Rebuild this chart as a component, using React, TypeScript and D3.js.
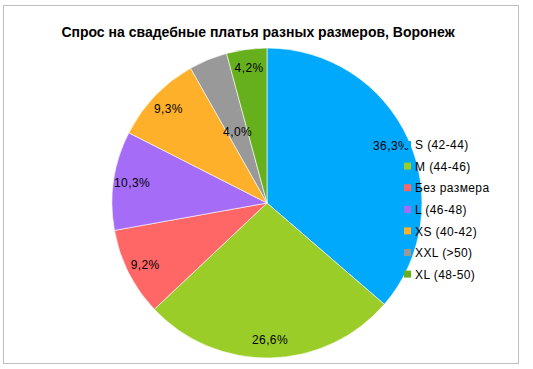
import { useEffect, useRef } from "react";
import * as d3 from "d3";

const categories = [
  "S (42-44)",
  "M (44-46)",
  "Без размера",
  "L (46-48)",
  "XS (40-42)",
  "XXL (>50)",
  "XL (48-50)",
];
const shares = [36.3, 26.6, 9.2, 10.3, 9.3, 4.0, 4.2];
const colors = [
  "#00a9fb",
  "#9acd28",
  "#ff6666",
  "#a56cf7",
  "#ffb02a",
  "#999999",
  "#66b01e",
];
const title = "Спрос на свадебные платья разных размеров, Воронеж";

const W = 533;
const H = 369;

export default function App() {
  const ref = useRef<SVGSVGElement>(null);

  useEffect(() => {
    const svg = d3.select(ref.current);
    svg.selectAll("*").remove();

    const font = "'Liberation Sans', Arial, sans-serif";

    svg
      .append("rect")
      .attr("x", 3.5)
      .attr("y", 5.5)
      .attr("width", 515)
      .attr("height", 358)
      .attr("fill", "#fff")
      .attr("stroke", "#bfbfbf")
      .attr("stroke-width", 1);

    svg
      .append("text")
      .attr("x", 258)
      .attr("y", 37)
      .attr("text-anchor", "middle")
      .attr("font-family", font)
      .attr("font-size", 14)
      .attr("font-weight", "bold")
      .text(title);

    const cx = 267;
    const cy = 203;
    const r = 155;

    const data = categories.map((name, i) => ({ name, value: shares[i], color: colors[i] }));
    const pie = d3
      .pie<(typeof data)[number]>()
      .sort(null)
      .value((d) => d.value);
    const arcs = pie(data);
    const arc = d3.arc<d3.PieArcDatum<(typeof data)[number]>>().innerRadius(0).outerRadius(r);

    const g = svg.append("g").attr("transform", `translate(${cx},${cy})`);
    g.selectAll("path")
      .data(arcs)
      .join("path")
      .attr("d", arc)
      .attr("fill", (d) => d.data.color)
      .attr("stroke", "#fff")
      .attr("stroke-width", 0.6);

    // labels sit near the rim; the narrow grey slice gets its label pulled inward
    g.selectAll("text")
      .data(arcs)
      .join("text")
      .attr("transform", (d) => {
        const k = d.data.name === "XXL (>50)" ? 0.5 : 0.88;
        const a = (d.startAngle + d.endAngle) / 2;
        return `translate(${Math.sin(a) * r * k},${-Math.cos(a) * r * k})`;
      })
      .attr("text-anchor", "middle")
      .attr("dy", "0.35em")
      .attr("font-family", font)
      .attr("font-size", 12)
      .attr("letter-spacing", 0.4)
      .text((d) => d.data.value.toFixed(1).replace(".", ",") + "%");

    const leg = svg.append("g").attr("transform", "translate(404,145)");
    const rowH = 21.6;
    const items = leg
      .selectAll("g")
      .data(data)
      .join("g")
      .attr("transform", (_, i) => `translate(0,${i * rowH})`);
    items
      .append("rect")
      .attr("x", 0)
      .attr("y", -4)
      .attr("width", 7)
      .attr("height", 7)
      .attr("fill", (d) => d.color);
    items
      .append("text")
      .attr("x", 11)
      .attr("dy", "0.35em")
      .attr("font-family", font)
      .attr("font-size", 12)
      .attr("letter-spacing", 0.4)
      .text((d) => d.name);
  }, []);

  return (
    <svg
      ref={ref}
      width={W}
      height={H}
      style={{ display: "block", position: "absolute", left: 0, top: 0 }}
    />
  );
}
